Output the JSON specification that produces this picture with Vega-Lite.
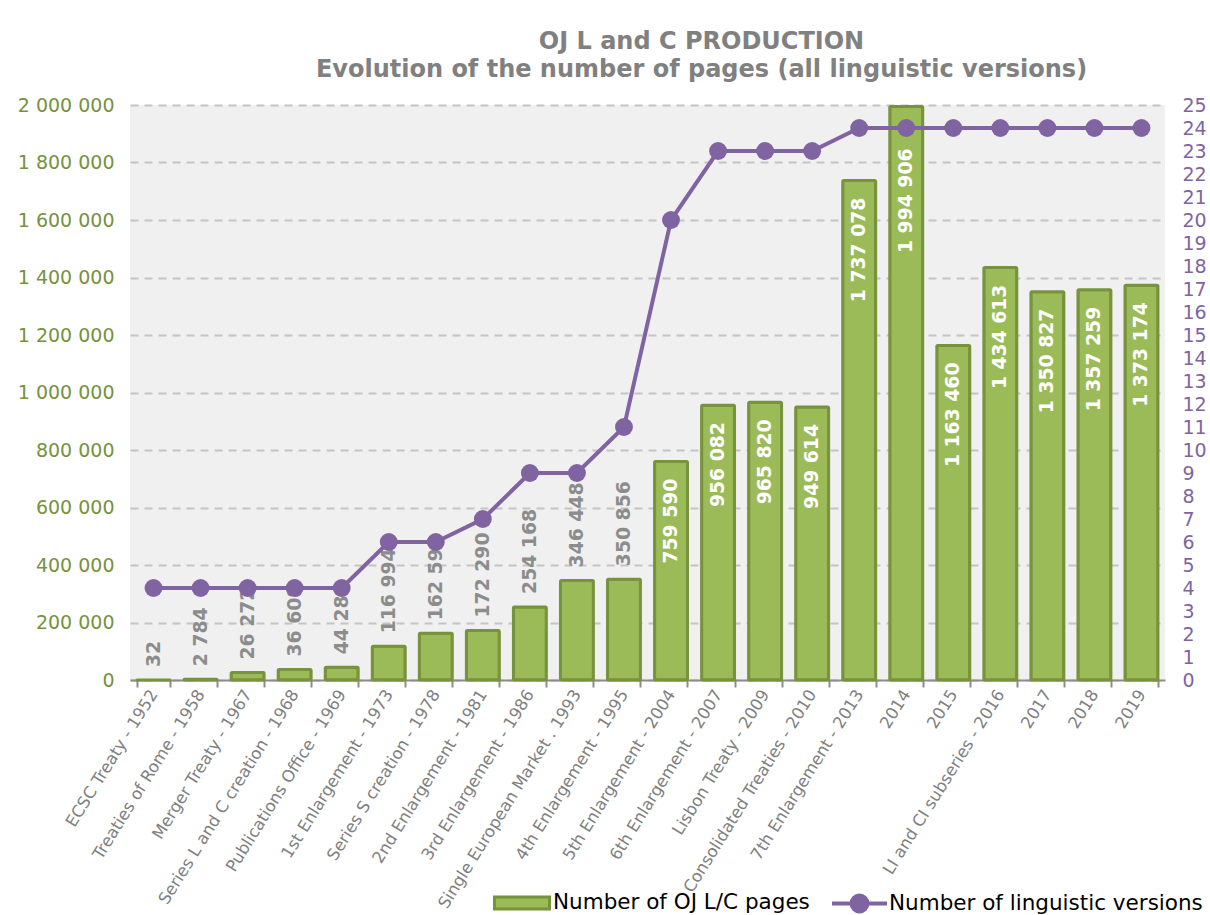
{
  "$schema": "https://vega.github.io/schema/vega-lite/v6.json",
  "width": 1035,
  "height": 575,
  "padding": {"left": 17, "top": 30, "right": 5, "bottom": 5},
  "background": "white",
  "title": {
    "text": ["OJ L and C PRODUCTION", "Evolution of the number of pages (all linguistic versions)"],
    "font": "DejaVu Sans",
    "fontSize": 24,
    "fontWeight": "bold",
    "color": "#808080",
    "lineHeight": 28,
    "anchor": "middle",
    "dx": 54,
    "offset": 14
  },
  "config": {
    "font": "DejaVu Sans",
    "view": {"fill": "#f0f0f0", "stroke": null},
    "locale": {"number": {"decimal": ".", "thousands": " ", "grouping": [3], "currency": ["", ""]}}
  },
  "data": {
    "values": [
      {"event": "ECSC Treaty - 1952", "pages": 32, "versions": 4},
      {"event": "Treaties of Rome - 1958", "pages": 2784, "versions": 4},
      {"event": "Merger Treaty - 1967", "pages": 26272, "versions": 4},
      {"event": "Series L and C creation - 1968", "pages": 36608, "versions": 4},
      {"event": "Publications Office - 1969", "pages": 44288, "versions": 4},
      {"event": "1st Enlargement - 1973", "pages": 116994, "versions": 6},
      {"event": "Series S creation - 1978", "pages": 162596, "versions": 6},
      {"event": "2nd Enlargement - 1981", "pages": 172290, "versions": 7},
      {"event": "3rd Enlargement - 1986", "pages": 254168, "versions": 9},
      {"event": "Single European Market . 1993", "pages": 346448, "versions": 9},
      {"event": "4th Enlargement - 1995", "pages": 350856, "versions": 11},
      {"event": "5th Enlargement - 2004", "pages": 759590, "versions": 20},
      {"event": "6th Enlargement - 2007", "pages": 956082, "versions": 23},
      {"event": "Lisbon Treaty - 2009", "pages": 965820, "versions": 23},
      {"event": "Consolidated Treaties - 2010", "pages": 949614, "versions": 23},
      {"event": "7th Enlargement - 2013", "pages": 1737078, "versions": 24},
      {"event": "2014", "pages": 1994906, "versions": 24},
      {"event": "2015", "pages": 1163460, "versions": 24},
      {"event": "LI and CI subseries - 2016", "pages": 1434613, "versions": 24},
      {"event": "2017", "pages": 1350827, "versions": 24},
      {"event": "2018", "pages": 1357259, "versions": 24},
      {"event": "2019", "pages": 1373174, "versions": 24}
    ]
  },
  "encoding": {
    "x": {
      "field": "event",
      "type": "nominal",
      "sort": null,
      "title": null,
      "scale": {"paddingInner": 0.3, "paddingOuter": 0.15},
      "axis": {
        "labelAngle": -58,
        "labelFontSize": 16.5,
        "labelColor": "#808080",
        "labelPadding": 4,
        "tickBand": "extent",
        "tickSize": 7,
        "tickWidth": 2,
        "tickColor": "#8c8c8c",
        "domainColor": "#8c8c8c",
        "domainWidth": 2,
        "grid": false,
        "labelLimit": 400
      }
    }
  },
  "layer": [
    {
      "encoding": {
        "y": {
          "field": "pages",
          "type": "quantitative",
          "title": null,
          "scale": {"domain": [0, 2000000], "nice": false},
          "axis": {
            "values": [0, 200000, 400000, 600000, 800000, 1000000, 1200000, 1400000, 1600000, 1800000, 2000000],
            "format": ",d",
            "labelFontSize": 19,
            "labelColor": "#76923c",
            "labelPadding": 16,
            "domain": false,
            "ticks": false,
            "grid": true,
            "gridColor": "#c4c4c4",
            "gridWidth": 2,
            "gridDash": [8, 6]
          }
        }
      },
      "layer": [
        {
          "mark": {"type": "bar", "stroke": "#77933c", "strokeWidth": 3, "cornerRadius": 1},
          "encoding": {
            "fill": {
              "datum": "Number of OJ L/C pages",
              "scale": {"range": ["#9bbb59"]},
              "legend": {
                "title": null,
                "orient": "none",
                "legendX": 373,
                "legendY": 779,
                "symbolType": "M-1.6,-0.35H1.6V0.35H-1.6Z",
                "symbolSize": 1183,
                "symbolStrokeColor": "#77933c",
                "symbolStrokeWidth": 3,
                "labelFontSize": 21.5,
                "labelColor": "#000000",
                "labelOffset": 12,
                "labelLimit": 500
              }
            }
          }
        },
        {
          "transform": [{"filter": "datum.pages < 500000"}],
          "mark": {"type": "text", "angle": 270, "align": "left", "baseline": "middle", "dx": 13, "fontSize": 18.8, "fontWeight": "bold", "color": "#8c8c8c"},
          "encoding": {"text": {"field": "pages", "type": "quantitative", "format": ",d"}}
        },
        {
          "transform": [{"filter": "datum.pages >= 500000 && datum.pages < 1900000"}],
          "mark": {"type": "text", "angle": 270, "align": "right", "baseline": "middle", "dx": -17, "fontSize": 18.8, "fontWeight": "bold", "color": "#ffffff"},
          "encoding": {"text": {"field": "pages", "type": "quantitative", "format": ",d"}}
        },
        {
          "transform": [{"filter": "datum.pages >= 1900000"}],
          "mark": {"type": "text", "angle": 270, "align": "right", "baseline": "middle", "dx": -42, "fontSize": 18.8, "fontWeight": "bold", "color": "#ffffff"},
          "encoding": {"text": {"field": "pages", "type": "quantitative", "format": ",d"}}
        }
      ]
    },
    {
      "encoding": {
        "y": {
          "field": "versions",
          "type": "quantitative",
          "title": null,
          "scale": {"domain": [0, 25], "nice": false},
          "axis": {
            "orient": "right",
            "values": [0, 1, 2, 3, 4, 5, 6, 7, 8, 9, 10, 11, 12, 13, 14, 15, 16, 17, 18, 19, 20, 21, 22, 23, 24, 25],
            "labelFontSize": 19,
            "labelColor": "#8064a2",
            "labelPadding": 17,
            "domain": false,
            "ticks": false,
            "grid": false
          }
        }
      },
      "layer": [
        {
          "mark": {"type": "line", "strokeWidth": 4},
          "encoding": {
            "stroke": {
              "datum": "Number of linguistic versions",
              "scale": {"range": ["#8064a2"]},
              "legend": {
                "title": null,
                "orient": "none",
                "legendX": 710,
                "legendY": 779,
                "symbolType": "M-1.6,0H1.6M-0.46,0A0.46,0.46,0,1,1,0.46,0A0.46,0.46,0,1,1,-0.46,0",
                "symbolSize": 1183,
                "symbolStrokeWidth": 4,
                "symbolFillColor": "#8064a2",
                "labelFontSize": 21.5,
                "labelColor": "#000000",
                "labelOffset": 10,
                "labelLimit": 500
              }
            }
          }
        },
        {
          "mark": {"type": "point", "filled": true, "shape": "circle", "size": 320, "color": "#8064a2", "opacity": 1}
        }
      ]
    }
  ],
  "resolve": {"scale": {"y": "independent", "fill": "independent", "stroke": "independent"}}
}
